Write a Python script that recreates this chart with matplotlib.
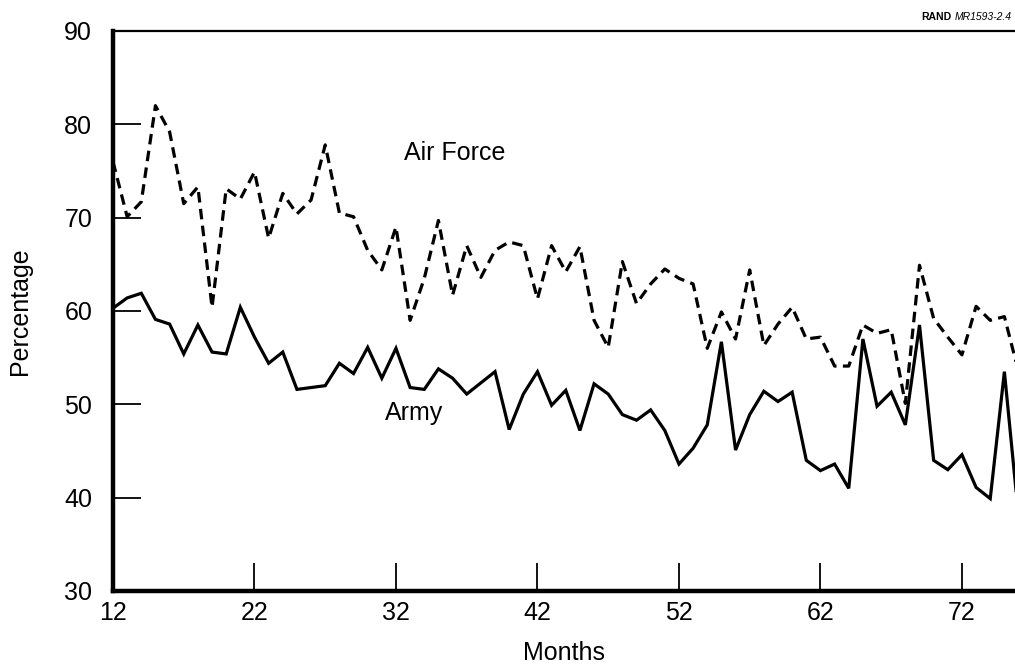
import matplotlib
matplotlib.use("Agg")
import matplotlib.pyplot as plt

plt.rcParams['font.family'] = ['Liberation Sans', 'DejaVu Sans']

# monthly values, months 12..76
months = list(range(12, 77))

air_force = [76.0, 70.1, 71.7, 82.0, 79.2, 71.5, 73.3, 60.4, 73.1, 72.0,
             74.9, 67.8, 72.6, 70.4, 71.9, 77.8, 70.5, 70.1, 66.5, 64.4,
             69.0, 59.0, 63.5, 69.7, 61.7, 67.0, 63.6, 66.5, 67.4, 67.0,
             61.3, 67.0, 64.2, 66.9, 59.0, 56.1, 65.3, 60.8, 62.9, 64.5,
             63.5, 62.9, 56.0, 59.9, 57.0, 64.4, 56.3, 58.6, 60.4, 57.0,
             57.2, 54.1, 54.1, 58.5, 57.6, 58.0, 50.1, 64.9, 59.2, 57.2,
             55.3, 60.5, 59.0, 59.4, 53.5]

army = [60.3, 61.4, 61.9, 59.1, 58.6, 55.4, 58.5, 55.6, 55.4, 60.4,
        57.2, 54.4, 55.6, 51.6, 51.8, 52.0, 54.4, 53.3, 56.1, 52.8,
        56.0, 51.8, 51.6, 53.8, 52.8, 51.1, 52.3, 53.5, 47.3, 51.1,
        53.5, 49.9, 51.5, 47.2, 52.2, 51.1, 48.9, 48.3, 49.4, 47.2,
        43.6, 45.3, 47.8, 56.7, 45.1, 48.9, 51.4, 50.3, 51.3, 44.0,
        42.9, 43.6, 41.0, 57.0, 49.8, 51.3, 47.8, 58.5, 44.0, 43.0,
        44.6, 41.1, 39.9, 53.5, 38.0]

x_ticks = [12, 22, 32, 42, 52, 62, 72]
y_ticks = [30, 40, 50, 60, 70, 80, 90]

W, H = 1015, 667
fig = plt.figure(figsize=(W / 100, H / 100), dpi=100)
ax = fig.add_axes([113 / W, (H - 591) / H, (W - 113) / W, (591 - 31) / H])

ax.plot(months, air_force, color='black', lw=2.3, linestyle=(0, (3.3, 2.0)),
        solid_joinstyle='miter')
ax.plot(months, army, color='black', lw=2.3, solid_joinstyle='miter')

ax.set_xlim(12, 75.75)
ax.set_ylim(30, 90)
ax.set_xticks(x_ticks)
ax.set_yticks(y_ticks)
ax.tick_params(direction='in', length=20, width=1.3, labelsize=18)
ax.tick_params(axis='x', pad=7)
ax.tick_params(axis='y', pad=15)

ax.spines['left'].set_linewidth(3.2)
ax.spines['bottom'].set_linewidth(3.2)
ax.spines['top'].set_linewidth(1.6)
ax.spines['right'].set_visible(False)

ax.set_xlabel('Months', fontsize=18, labelpad=12)
ax.set_ylabel('Percentage', fontsize=18, labelpad=23)

ax.text(32.6, 76.9, 'Air Force', fontsize=18, va='center', ha='left')
ax.text(31.2, 49.1, 'Army', fontsize=18, va='center', ha='left')

# report number, top right corner
fig.text(0.9965, 0.982, 'MR1593-2.4', fontsize=7.5, ha='right', va='top',
         style='italic')
fig.text(0.9375, 0.982, 'RAND', fontsize=7.5, ha='right', va='top',
         fontweight='bold')

fig.savefig('out.png', dpi=100)
